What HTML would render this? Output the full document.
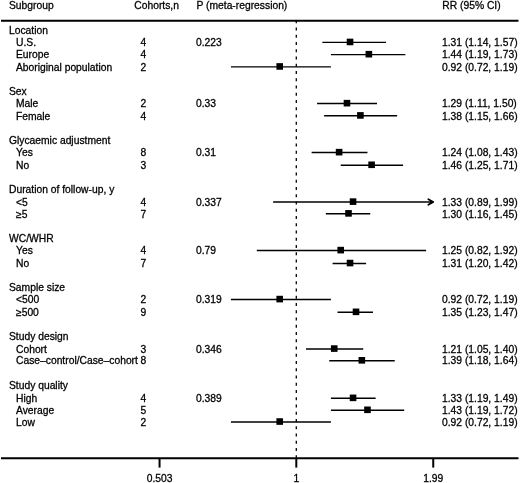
<!DOCTYPE html>
<html><head><meta charset="utf-8"><style>
html,body{margin:0;padding:0;background:#fff;}
body{width:520px;height:483px;overflow:hidden;}
svg{display:block;}
text{font-family:"Liberation Sans",Arial,sans-serif;font-size:10.3px;fill:#000;stroke:#000;stroke-width:0.28px;}
line{stroke:#000;stroke-width:1.4;}
.tk{stroke-width:2;}
.hl{stroke-width:2;}
.dash{stroke-width:1.3;stroke-dasharray:3 4.25;}
.sq{fill:#000;}
.ar{fill:none;stroke:#000;stroke-width:1.8;stroke-linecap:round;stroke-linejoin:round;}
</style></head><body>
<svg width="520" height="483" viewBox="0 0 520 483">
<line class="hl" x1="1" y1="20.8" x2="518.5" y2="20.8"/>
<line class="hl" x1="1" y1="458.3" x2="518.5" y2="458.3"/>
<line class="dash" x1="296.3" y1="20.3" x2="296.3" y2="458"/>
<line x1="322.37" y1="42.34" x2="386.06" y2="42.34"/>
<rect class="sq" x="346.74" y="38.65" width="6.6" height="6.6"/>
<line x1="330.92" y1="54.59" x2="405.38" y2="54.59"/>
<rect class="sq" x="365.56" y="50.89" width="6.6" height="6.6"/>
<line x1="230.93" y1="66.84" x2="330.92" y2="66.84"/>
<rect class="sq" x="276.41" y="63.14" width="6.6" height="6.6"/>
<line x1="317.07" y1="103.57" x2="376.99" y2="103.57"/>
<rect class="sq" x="343.67" y="99.87" width="6.6" height="6.6"/>
<line x1="324.11" y1="115.81" x2="397.16" y2="115.81"/>
<rect class="sq" x="357.09" y="112.11" width="6.6" height="6.6"/>
<line x1="311.62" y1="152.55" x2="367.48" y2="152.55"/>
<rect class="sq" x="335.81" y="148.85" width="6.6" height="6.6"/>
<line x1="340.71" y1="165.19" x2="403.06" y2="165.19"/>
<rect class="sq" x="368.31" y="161.49" width="6.6" height="6.6"/>
<line x1="273.11" y1="202.03" x2="431.14" y2="202.03"/>
<path class="ar" d="M428.34,199.23 L433.14,202.03 L428.34,204.83"/>
<path class="sq" d="M429.94,200.13 L434.34,202.03 L429.94,203.93 Z"/>
<rect class="sq" x="349.75" y="198.33" width="6.6" height="6.6"/>
<line x1="325.84" y1="213.77" x2="370.24" y2="213.77"/>
<rect class="sq" x="345.21" y="210.07" width="6.6" height="6.6"/>
<line x1="256.81" y1="250.51" x2="426.11" y2="250.51"/>
<rect class="sq" x="337.41" y="246.81" width="6.6" height="6.6"/>
<line x1="332.58" y1="263.45" x2="366.08" y2="263.45"/>
<rect class="sq" x="346.74" y="259.75" width="6.6" height="6.6"/>
<line x1="230.93" y1="299.49" x2="330.92" y2="299.49"/>
<rect class="sq" x="276.41" y="295.79" width="6.6" height="6.6"/>
<line x1="337.5" y1="312.24" x2="372.97" y2="312.24"/>
<rect class="sq" x="352.72" y="308.54" width="6.6" height="6.6"/>
<line x1="306.01" y1="348.97" x2="363.26" y2="348.97"/>
<rect class="sq" x="330.93" y="345.27" width="6.6" height="6.6"/>
<line x1="329.24" y1="360.71" x2="394.74" y2="360.71"/>
<rect class="sq" x="358.53" y="357.01" width="6.6" height="6.6"/>
<line x1="330.92" y1="398.25" x2="375.66" y2="398.25"/>
<rect class="sq" x="349.75" y="394.55" width="6.6" height="6.6"/>
<line x1="330.92" y1="410.19" x2="404.22" y2="410.19"/>
<rect class="sq" x="364.18" y="406.5" width="6.6" height="6.6"/>
<line x1="230.93" y1="421.94" x2="330.92" y2="421.94"/>
<rect class="sq" x="276.41" y="418.24" width="6.6" height="6.6"/>
<text x="9.0" y="9.0">Subgroup</text>
<text x="134.3" y="9.0">Cohorts,n</text>
<text x="196.5" y="9.0">P (meta-regression)</text>
<text x="442.3" y="9.0">RR (95% CI)</text>
<text x="9.0" y="33.85">Location</text>
<text x="16.0" y="46.09">U.S.</text>
<text x="140.6" y="46.09">4</text>
<text x="196.0" y="46.09">0.223</text>
<text x="442.0" y="46.09">1.31 (1.14, 1.57)</text>
<text x="16.0" y="58.34">Europe</text>
<text x="140.6" y="58.34">4</text>
<text x="442.0" y="58.34">1.44 (1.19, 1.73)</text>
<text x="16.0" y="70.59">Aboriginal population</text>
<text x="140.6" y="70.59">2</text>
<text x="442.0" y="70.59">0.92 (0.72, 1.19)</text>
<text x="9.0" y="95.07">Sex</text>
<text x="16.0" y="107.32">Male</text>
<text x="140.6" y="107.32">2</text>
<text x="196.0" y="107.32">0.33</text>
<text x="442.0" y="107.32">1.29 (1.11, 1.50)</text>
<text x="16.0" y="119.56">Female</text>
<text x="140.6" y="119.56">4</text>
<text x="442.0" y="119.56">1.38 (1.15, 1.66)</text>
<text x="9.0" y="144.06">Glycaemic adjustment</text>
<text x="16.0" y="156.3">Yes</text>
<text x="140.6" y="156.3">8</text>
<text x="196.0" y="156.3">0.31</text>
<text x="442.0" y="156.3">1.24 (1.08, 1.43)</text>
<text x="16.0" y="168.94">No</text>
<text x="140.6" y="168.94">3</text>
<text x="442.0" y="168.94">1.46 (1.25, 1.71)</text>
<text x="9.0" y="193.03">Duration of follow-up, y</text>
<text x="16.0" y="205.78">&lt;5</text>
<text x="140.6" y="205.78">4</text>
<text x="196.0" y="205.78">0.337</text>
<text x="442.0" y="205.78">1.33 (0.89, 1.99)</text>
<text x="16.0" y="217.52">≥5</text>
<text x="140.6" y="217.52">7</text>
<text x="442.0" y="217.52">1.30 (1.16, 1.45)</text>
<text x="9.0" y="242.01">WC/WHR</text>
<text x="16.0" y="254.26">Yes</text>
<text x="140.6" y="254.26">4</text>
<text x="196.0" y="254.26">0.79</text>
<text x="442.0" y="254.26">1.25 (0.82, 1.92)</text>
<text x="16.0" y="267.2">No</text>
<text x="140.6" y="267.2">7</text>
<text x="442.0" y="267.2">1.31 (1.20, 1.42)</text>
<text x="9.0" y="291">Sample size</text>
<text x="16.0" y="303.24">&lt;500</text>
<text x="140.6" y="303.24">2</text>
<text x="196.0" y="303.24">0.319</text>
<text x="442.0" y="303.24">0.92 (0.72, 1.19)</text>
<text x="16.0" y="315.99">≥500</text>
<text x="140.6" y="315.99">9</text>
<text x="442.0" y="315.99">1.35 (1.23, 1.47)</text>
<text x="9.0" y="339.98">Study design</text>
<text x="16.0" y="352.72">Cohort</text>
<text x="140.6" y="352.72">3</text>
<text x="196.0" y="352.72">0.346</text>
<text x="442.0" y="352.72">1.21 (1.05, 1.40)</text>
<text x="16.0" y="364.46">Case–control/Case–cohort</text>
<text x="140.6" y="364.46">8</text>
<text x="442.0" y="364.46">1.39 (1.18, 1.64)</text>
<text x="9.0" y="388.95">Study quality</text>
<text x="16.0" y="402">High</text>
<text x="140.6" y="402">4</text>
<text x="196.0" y="402">0.389</text>
<text x="442.0" y="402">1.33 (1.19, 1.49)</text>
<text x="16.0" y="413.94">Average</text>
<text x="140.6" y="413.94">5</text>
<text x="442.0" y="413.94">1.43 (1.19, 1.72)</text>
<text x="16.0" y="425.69">Low</text>
<text x="140.6" y="425.69">2</text>
<text x="442.0" y="425.69">0.92 (0.72, 1.19)</text>
<line class="tk" x1="159.55" y1="459" x2="159.55" y2="467.6"/>
<text x="159.55" y="481.5" text-anchor="middle">0.503</text>
<line class="tk" x1="296.3" y1="459" x2="296.3" y2="467.6"/>
<text x="296.3" y="481.5" text-anchor="middle">1</text>
<line class="tk" x1="433.24" y1="459" x2="433.24" y2="467.6"/>
<text x="433.24" y="481.5" text-anchor="middle">1.99</text>
</svg>
</body></html>
